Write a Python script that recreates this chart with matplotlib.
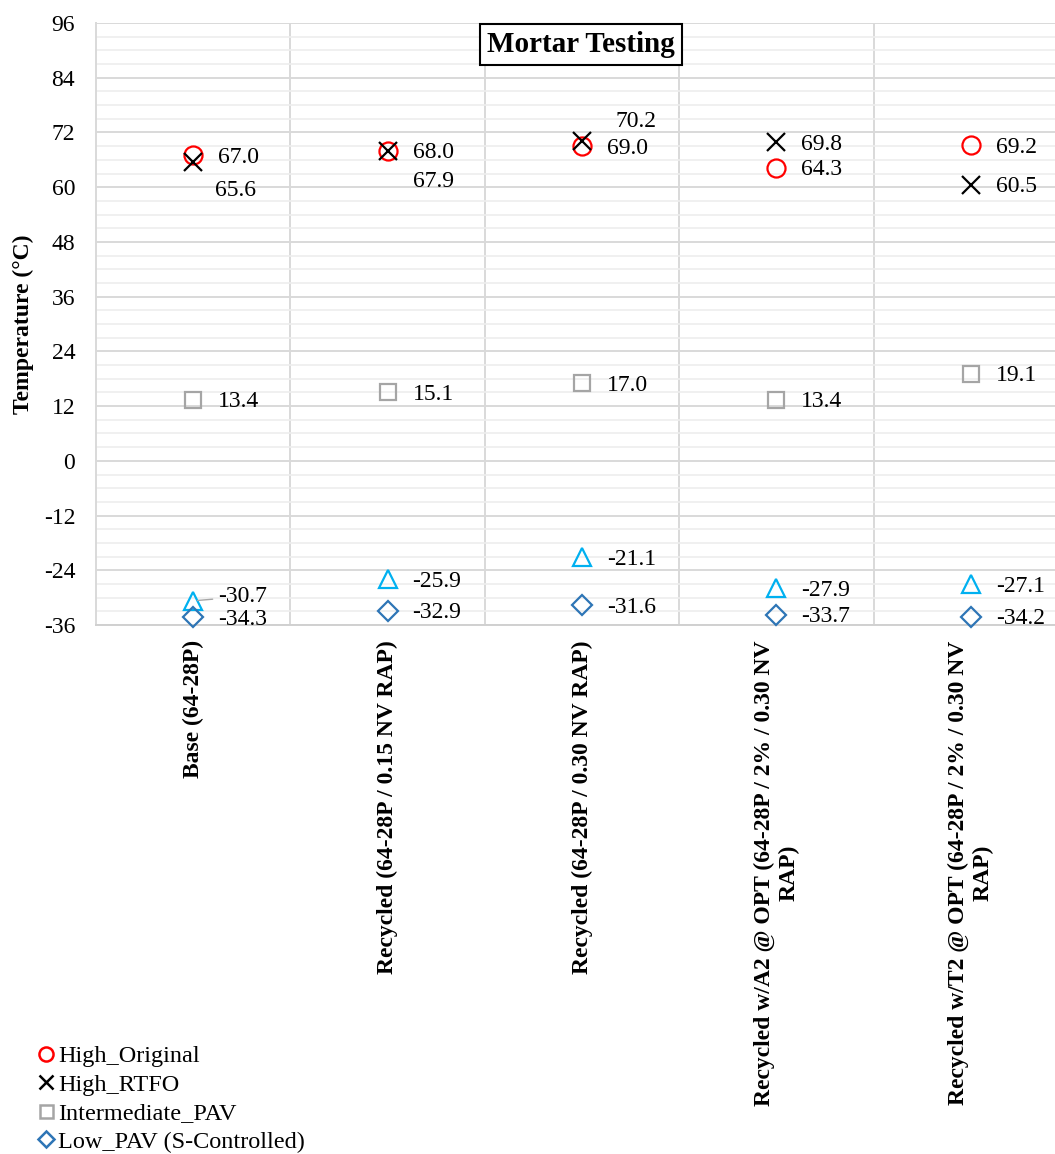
import matplotlib.pyplot as plt
import numpy as np
from matplotlib.lines import Line2D

# ---------------------------------------------------------------------------
# data
categories = ["Base (64-28P)",
              "Recycled (64-28P / 0.15 NV RAP)",
              "Recycled (64-28P / 0.30 NV RAP)",
              "Recycled w/A2 @ OPT (64-28P / 2% / 0.30 NV\nRAP)",
              "Recycled w/T2 @ OPT (64-28P / 2% / 0.30 NV\nRAP)"]
high_original = [67.0, 68.0, 69.0, 64.3, 69.2]
high_rtfo = [65.6, 67.9, 70.2, 69.8, 60.5]
intermediate_pav = [13.4, 15.1, 17.0, 13.4, 19.1]
low_pav_m = [-30.7, -25.9, -21.1, -27.9, -27.1]
low_pav_s = [-34.3, -32.9, -31.6, -33.7, -34.2]
y_ticks = list(range(-36, 97, 12))

# ---------------------------------------------------------------------------
plt.rcParams['font.family'] = ['Liberation Serif', 'DejaVu Serif']
plt.rcParams['axes.unicode_minus'] = False
FS = 17

fig = plt.figure(figsize=(10.55, 11.54), dpi=100)
ax = fig.add_axes([96 / 1055, 1 - 625 / 1154, 972 / 1055, 602 / 1154])

x = np.arange(len(categories)) + 0.5

# series: (values, marker, colour, size, label)
series = [
    (high_original, 'o', '#FF0000', 13, 'High_Original'),
    (high_rtfo, 'x', '#000000', 13, 'High_RTFO'),
    (intermediate_pav, 's', '#A5A5A5', 12, 'Intermediate_PAV'),
    (low_pav_m, '^', '#00B0F0', 13, 'Low_PAV (m-Controlled)'),
    (low_pav_s, 'D', '#2E75B6', 10, 'Low_PAV (S-Controlled)'),
]

# label offsets in points, default right of the marker
default_off = (18, -1.5)
special_off = {(1, 0): (16, -21), (1, 1): (18, -22), (1, 2): (24, 14), (3, 0): (18, 3)}

for si, (vals, mk, col, ms, lab) in enumerate(series):
    ax.plot(x, vals, linestyle='none', marker=mk, ms=ms, mfc='none', mec=col,
            mew=1.6, zorder=3 + si, clip_on=False)
    for ci, v in enumerate(vals):
        off = special_off.get((si, ci), default_off)
        if (si, ci) == (3, 0):
            ax.annotate(f"{v:.1f}", (x[ci], v), xytext=off, textcoords='offset points',
                        ha='left', va='center', fontsize=FS, zorder=10,
                        arrowprops=dict(arrowstyle='-', color='#A6A6A6', lw=1,
                                        shrinkA=2, shrinkB=3))
        else:
            ax.annotate(f"{v:.1f}", (x[ci], v), xytext=off, textcoords='offset points',
                        ha='left', va='center', fontsize=FS, zorder=10)

ax.set_xlim(0, len(categories))
ax.set_ylim(-36, 96)
ax.set_yticks(y_ticks)
ax.set_yticks(np.arange(-36, 97, 3), minor=True)
ax.set_xticks(x)
ax.set_xticklabels(categories, rotation=90, fontsize=FS, fontweight='bold')
for t in ax.get_xticklabels():
    t.set_multialignment('center')
ax.set_xticks(np.arange(1, len(categories) + 1), minor=True)
ax.tick_params(axis='y', which='both', length=0, labelsize=FS, pad=15)
ax.tick_params(axis='x', which='both', length=0, pad=11)

ax.grid(axis='y', which='major', color='#D9D9D9', lw=1.4, zorder=0)
ax.grid(axis='y', which='minor', color='#EEEEEE', lw=1.2, zorder=0)
ax.grid(axis='x', which='minor', color='#D9D9D9', lw=1.4, zorder=0)
ax.grid(axis='x', which='major', visible=False)
ax.set_axisbelow(True)
for s in ['top', 'right']:
    ax.spines[s].set_visible(False)
ax.spines['left'].set_color('#D9D9D9')
ax.spines['left'].set_linewidth(1.4)
ax.spines['bottom'].set_color('#D0D0D0')
ax.spines['bottom'].set_linewidth(1.4)

fig.text(23 / 1055, 1 - 324 / 1154, "Temperature (°C)", rotation=90, ha='center',
         va='center', fontsize=FS, fontweight='bold')

fig.text(581 / 1055, 1 - 44 / 1154, "Mortar Testing", ha='center', va='center',
         fontsize=21, fontweight='bold', zorder=20,
         bbox=dict(boxstyle='square,pad=0.24', fc='white', ec='black', lw=1.5))

handles = [Line2D([], [], linestyle='none', marker=series[i][1], ms=series[i][3] * 0.78,
                  mfc='none', mec=series[i][2], mew=1.8, label=series[i][4])
           for i in (0, 1, 2, 4)]
fig.legend(handles=handles, loc='upper left', bbox_to_anchor=(36 / 1055, 1 - 1045 / 1154),
           frameon=False, fontsize=17.5, handlelength=0.8, handletextpad=0.1,
           labelspacing=0.27, borderpad=0, borderaxespad=0)

fig.savefig("out.png", dpi=100)
